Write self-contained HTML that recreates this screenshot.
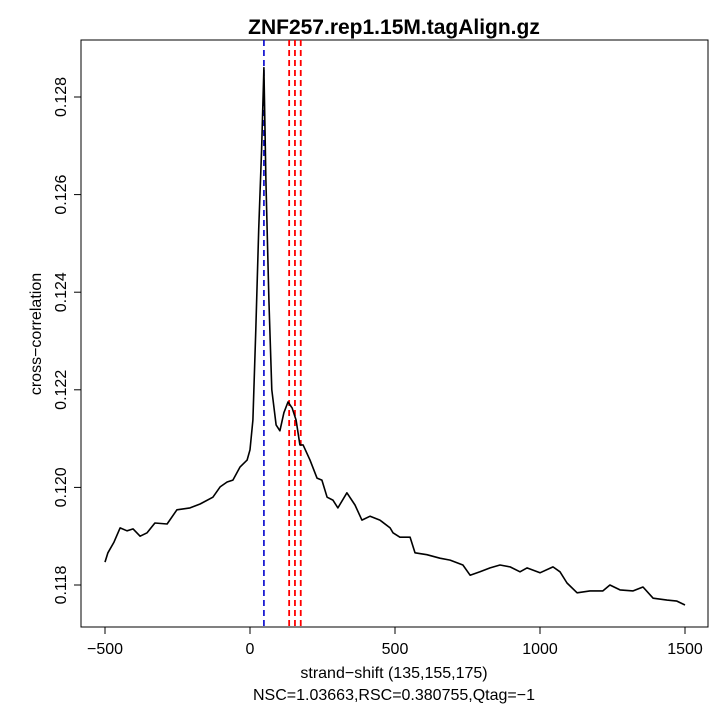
<!DOCTYPE html>
<html><head><meta charset="utf-8"><style>
body{margin:0;background:#fff}
svg text{font-family:"Liberation Sans",sans-serif;fill:#000}
</style></head><body>
<svg id="chart" width="720" height="720" xmlns="http://www.w3.org/2000/svg">
<rect width="720" height="720" fill="#fff"/>
<text x="394" y="34" font-size="21" font-weight="bold" text-anchor="middle">ZNF257.rep1.15M.tagAlign.gz</text>
<rect x="81" y="40" width="627" height="587" fill="none" stroke="#000" stroke-width="1"/>
<g id="xaxis"></g>
<g id="yaxis"></g>
<g id="vlines"></g>
<path id="curve" fill="none" stroke="#000" stroke-width="1.6" stroke-linejoin="round"/>
<text x="394" y="678" font-size="16" text-anchor="middle">strand−shift (135,155,175)</text>
<text x="394" y="700" font-size="16" text-anchor="middle">NSC=1.03663,RSC=0.380755,Qtag=−1</text>
<text transform="translate(41,334) rotate(-90)" font-size="16" text-anchor="middle">cross−correlation</text>
</svg>
<script>
const shifts=[-500,-490,-469,-448,-424,-403,-379,-355,-328,-286,-252,-207,-172,-128,-103,-79,-59,-34,-10,0,10,20,30,40,48,55,65,75,90,103,117,131,145,159,172,183,207,231,248,266,286,303,334,362,386,414,448,483,493,517,552,569,610,655,690,734,759,793,828,862,897,931,955,1000,1045,1069,1093,1128,1172,1217,1241,1276,1321,1355,1390,1438,1472,1500];
const values=[0.11847,0.11866,0.11888,0.11917,0.11911,0.11915,0.11900,0.11907,0.11927,0.11925,0.11954,0.11958,0.11966,0.11980,0.12001,0.12011,0.12015,0.12042,0.12056,0.12077,0.12138,0.12323,0.12528,0.12692,0.12860,0.12630,0.12384,0.12200,0.12128,0.12116,0.12153,0.12175,0.12163,0.12138,0.12087,0.12087,0.12056,0.12019,0.12015,0.11980,0.11974,0.11958,0.11989,0.11964,0.11933,0.11941,0.11933,0.11917,0.11907,0.11898,0.11898,0.11866,0.11862,0.11855,0.11851,0.11841,0.11820,0.11827,0.11835,0.11841,0.11837,0.11827,0.11835,0.11825,0.11837,0.11827,0.11804,0.11784,0.11788,0.11788,0.11800,0.11790,0.11788,0.11796,0.11773,0.11769,0.11767,0.11759];
const xTicks=[-500,0,500,1000,1500];
const yTicks=[0.118,0.120,0.122,0.124,0.126,0.128];
const blueShift=[48];
const redShifts=[135,155,175];
const NS="http://www.w3.org/2000/svg";
function X(s){return 250+s*0.29;}
function Y(v){return 585-(v-0.118)/0.001*48.8;}
function mk(tag,attrs,parent){const e=document.createElementNS(NS,tag);for(const k in attrs)e.setAttribute(k,attrs[k]);parent.appendChild(e);return e;}
const xa=document.getElementById('xaxis'),ya=document.getElementById('yaxis'),vl=document.getElementById('vlines');
xTicks.forEach(t=>{
 const l=mk('line',{x1:X(t),x2:X(t),y1:627,y2:634,stroke:'#000'},xa);
 
 
 const tx=mk('text',{x:X(t),y:654,'font-size':16,'text-anchor':'middle'},xa);
 
 
 tx.textContent=t<0?'−'+(-t):String(t);
});
yTicks.forEach(t=>{
 const l=mk('line',{x1:74,x2:81,y1:Y(t),y2:Y(t),stroke:'#000'},ya);
 
 
 const tx=mk('text',{'font-size':16,'text-anchor':'middle',transform:'translate(66,'+Y(t)+') rotate(-90)'},ya);
 
 
 tx.textContent=t.toFixed(3);
});
blueShift.forEach(s=>{
 const l=mk('line',{x1:X(s),x2:X(s),y1:40,y2:627,stroke:'#0000cc','stroke-width':1.6,'stroke-dasharray':'6,4'},vl);
 
 
});
redShifts.forEach(s=>{
 const l=mk('line',{x1:X(s),x2:X(s),y1:40,y2:627,stroke:'#ff0000','stroke-width':1.8,'stroke-dasharray':'6,4'},vl);
 
 
});
document.getElementById('curve').setAttribute('d',shifts.map((s,i)=>(i?'L':'M')+X(s).toFixed(1)+','+Y(values[i]).toFixed(1)).join(''));
</script>
</body></html>
